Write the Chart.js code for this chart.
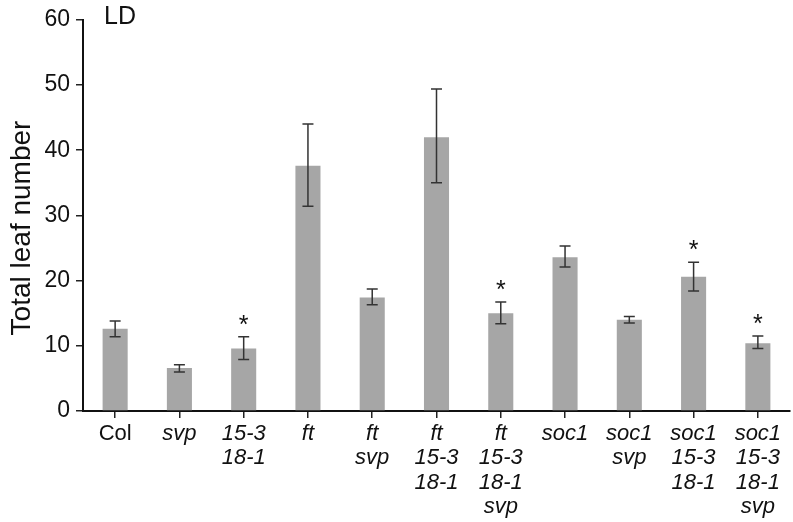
<!DOCTYPE html>
<html>
<head>
<meta charset="utf-8">
<script src="https://cdn.jsdelivr.net/npm/chart.js@4.4.1/dist/chart.umd.min.js"></script>
<style>
  html, body { margin: 0; padding: 0; background: #fff; }
  #wrap { width: 793px; height: 522px; position: relative; }
</style>
</head>
<body>
<div id="wrap"><canvas id="leaf-chart"></canvas></div>
<script>
// genotypes (multi-line labels, first one roman, the rest italic)
var labels = [
    ['Col'],
    ['svp'],
    ['15-3', '18-1'],
    ['ft'],
    ['ft', 'svp'],
    ['ft', '15-3', '18-1'],
    ['ft', '15-3', '18-1', 'svp'],
    ['soc1'],
    ['soc1', 'svp'],
    ['soc1', '15-3', '18-1'],
    ['soc1', '15-3', '18-1', 'svp']
]
var leafMean = [12.6, 6.6, 9.6, 37.6, 17.4, 42.0, 15.0, 23.6, 14.0, 20.6, 10.4]
var errLow   = [11.4, 6.0, 7.9, 31.4, 16.3, 35.0, 13.4, 22.1, 13.5, 18.4, 9.6]
var errHigh  = [13.8, 7.1, 11.4, 44.0, 18.7, 49.4, 16.7, 25.3, 14.5, 22.8, 11.5]
var signif   = [false, false, true, false, false, false, true, false, false, true, true]
var yTicks = [0, 10, 20, 30, 40, 50, 60]

var fontFam = '"Liberation Sans", Arial, sans-serif'

// error bars + asterisks + panel text
var extras = {
    id: 'extras',
    afterDatasetsDraw: function(chart) {
        var ctx = chart.ctx
        var y = chart.scales.y
        var meta = chart.getDatasetMeta(0)
        ctx.save()
        ctx.strokeStyle = '#333'
        ctx.lineWidth = 1.5
        for (var i = 0; i < leafMean.length; i++) {
            var x = meta.data[i].x
            var top = y.getPixelForValue(errHigh[i])
            var bot = y.getPixelForValue(errLow[i])
            ctx.beginPath()
            ctx.moveTo(x, top); ctx.lineTo(x, bot)
            ctx.moveTo(x - 5.5, top); ctx.lineTo(x + 5.5, top)
            ctx.moveTo(x - 5.5, bot); ctx.lineTo(x + 5.5, bot)
            ctx.stroke()
            if (signif[i]) {
                ctx.fillStyle = '#111'
                ctx.font = '25px ' + fontFam
                ctx.textAlign = 'center'
                ctx.textBaseline = 'alphabetic'
                ctx.fillText('*', x, top - 4)
            }
        }
        // panel label
        ctx.fillStyle = '#111'
        ctx.font = '25px ' + fontFam
        ctx.textAlign = 'left'
        ctx.textBaseline = 'alphabetic'
        ctx.fillText('LD', 104, 24)
        // y title
        ctx.translate(30, 228)
        ctx.rotate(-Math.PI / 2)
        ctx.textAlign = 'center'
        ctx.font = '28px ' + fontFam
        ctx.fillText('Total leaf number', 0, 0)
        ctx.restore()
    }
}

var data = {
    labels: labels,
    datasets: [
        {
            data: leafMean,
            backgroundColor: '#a6a6a6',
            borderWidth: 0,
            categoryPercentage: 0.78,
            barPercentage: 0.5
        }
    ]
}

var options = {
    type: 'bar',
    data: data,
    plugins: [extras],
    options: {
        responsive: true,
        maintainAspectRatio: false,
        animation: false,
        layout: { padding: { top: 16, right: 3, left: 0, bottom: 0 } },
        scales: {
            x: {
                offset: true,
                grid: { offset: false, drawOnChartArea: false, drawTicks: true, tickLength: 7, color: '#222', lineWidth: 1.5 },
                border: { color: '#111', width: 2 },
                ticks: {
                    color: '#111',
                    padding: 4,
                    maxRotation: 0,
                    autoSkip: false,
                    font: function(c) {
                        return { family: fontFam, size: 22, lineHeight: 1.1, style: c.index === 0 ? 'normal' : 'italic' }
                    }
                },
                afterFit: function(s) { s.height = 111 }
            },
            y: {
                min: 0,
                max: 60,
                afterBuildTicks: function(s) { s.ticks = yTicks.map(v => ({ value: v })) },
                grid: { drawOnChartArea: false, drawTicks: true, tickLength: 7, color: '#222', lineWidth: 1.5 },
                border: { color: '#111', width: 2 },
                ticks: { color: '#111', padding: 6, font: { family: fontFam, size: 23 } },
                afterFit: function(s) { s.width = 83 }
            }
        },
        plugins: {
            legend: { display: false },
            tooltip: { enabled: false },
            title: { display: false }
        }
    }
}

var ctx = document.getElementById('leaf-chart').getContext('2d');
var chart = new Chart(ctx, options)
</script>
</body>
</html>
